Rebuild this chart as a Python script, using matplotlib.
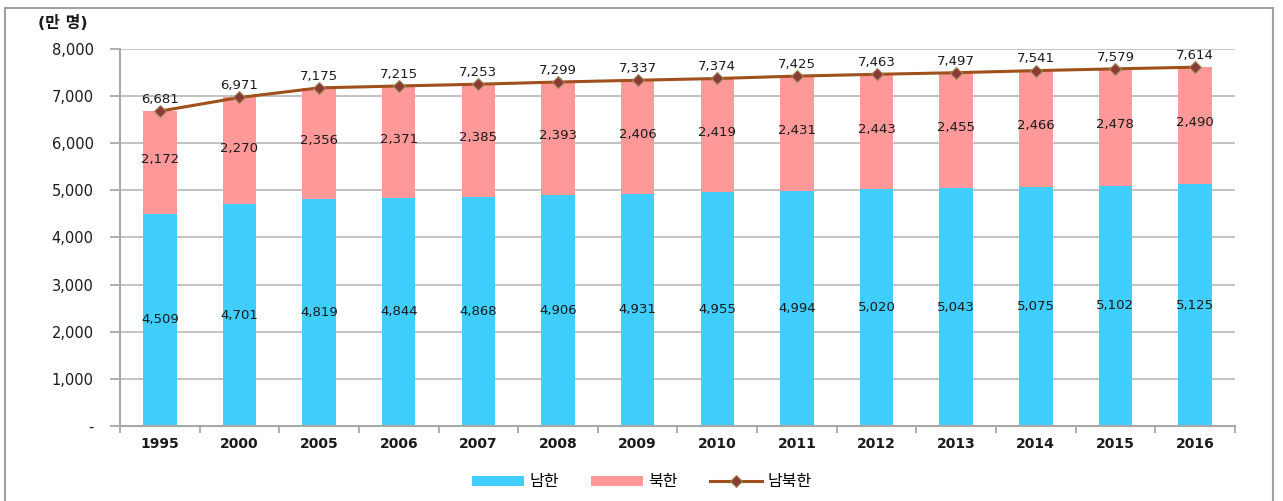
import matplotlib.pyplot as plt
import matplotlib.patches as mpatches
import numpy as np

plt.rcParams['font.family'] = ['DejaVu Sans', 'Noto Sans CJK KR']

years = ['1995', '2000', '2005', '2006', '2007', '2008', '2009',
         '2010', '2011', '2012', '2013', '2014', '2015', '2016']
south = [4509, 4701, 4819, 4844, 4868, 4906, 4931, 4955, 4994, 5020, 5043, 5075, 5102, 5125]
north = [2172, 2270, 2356, 2371, 2385, 2393, 2406, 2419, 2431, 2443, 2455, 2466, 2478, 2490]
total = [6681, 6971, 7175, 7215, 7253, 7299, 7337, 7374, 7425, 7463, 7497, 7541, 7579, 7614]

blue = '#40CDFF'
pink = '#FF9999'
brown = '#A0501C'
txt = '#1a1a1a'

fig = plt.figure(figsize=(12.83, 5.01), dpi=100)
ax = fig.add_axes([0.0935, 0.1497, 0.869, 0.7525])

x = np.arange(len(years))
w = 0.42
b1 = ax.bar(x, south, w, color=blue, label='남한', zorder=2)
b2 = ax.bar(x, north, w, bottom=south, color=pink, label='북한', zorder=2)
l1, = ax.plot(x, total, color=brown, lw=2.2, marker='D', ms=6.5,
              mfc='#8B3A36', mec='#9C8E5A', mew=0.8, label='남북한', zorder=3)

for i in range(len(years)):
    ax.text(x[i], south[i] / 2, f'{south[i]:,}', ha='center', va='center',
            fontsize=9.5, color=txt, zorder=4)
    ax.text(x[i], south[i] + north[i] / 2 + 60, f'{north[i]:,}', ha='center', va='center',
            fontsize=9.5, color=txt, zorder=4)
    ax.text(x[i], total[i] + 110, f'{total[i]:,}', ha='center', va='bottom',
            fontsize=9.5, color=txt, zorder=4)

ax.set_xlim(-0.5, len(years) - 0.5)
ax.set_ylim(0, 8000)
yt = np.arange(0, 8001, 1000)
ax.set_yticks(yt)
ax.set_yticklabels(['-'] + [f'{v:,}' for v in yt[1:]], fontsize=10.5, color=txt)
ax.set_xticks(x)
ax.set_xticklabels(years, fontsize=10, color=txt, fontweight='semibold')
ax.set_xticks(np.arange(-0.5, len(years), 1), minor=True)
ax.tick_params(axis='x', which='major', length=0, pad=8)
ax.tick_params(axis='x', which='minor', length=5, color='#a0a0a0', width=1.2)
ax.tick_params(axis='y', length=7, color='#a0a0a0', width=1.2, pad=12)

ax.grid(axis='y', color='#b8b8b8', lw=1.2, zorder=0)
for s in ['top', 'right']:
    ax.spines[s].set_visible(False)
for s in ['left', 'bottom']:
    ax.spines[s].set_color('#a8a8a8')
    ax.spines[s].set_linewidth(1.5)

fig.text(0.03, 0.955, '(만 명)', fontsize=11.5, fontweight='bold', color=txt,
         va='center', ha='left')

fig.legend([b1, b2, l1], ['남한', '북한', '남북한'], loc='center',
           bbox_to_anchor=(0.5, 0.038), ncol=3, frameon=False,
           fontsize=11.5, handlelength=3.3, handleheight=0.6, columnspacing=2.0,
           handletextpad=0.3)

fig.patches.append(mpatches.Rectangle((0.004, -0.05), 0.988, 1.034, transform=fig.transFigure,
                                      fill=False, edgecolor='#a0a0a0', lw=1.5))

fig.savefig('out.png', dpi=100)
